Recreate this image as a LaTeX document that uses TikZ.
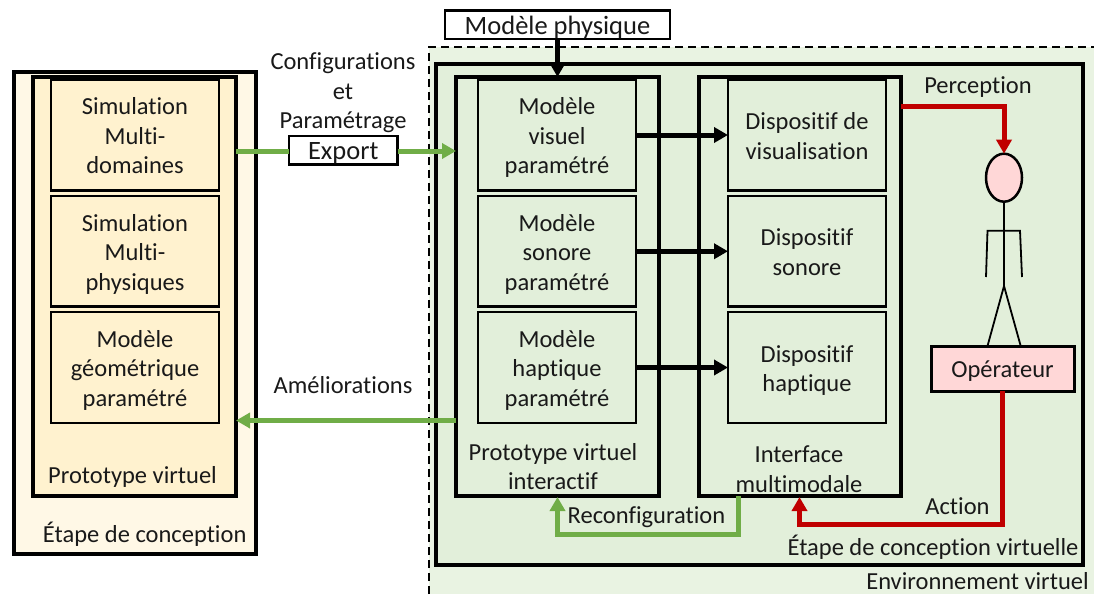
\documentclass[tikz,border=0pt]{standalone}
\usepackage{fontspec}
\setmainfont[Ligatures=NoCommon]{Carlito}
\usetikzlibrary{arrows.meta,shapes.geometric}
\definecolor{envfill}{HTML}{E9F3E2}
\definecolor{greenfill}{HTML}{E2EFDA}
\definecolor{outerfill}{HTML}{FFF8E6}
\definecolor{yellowfill}{HTML}{FFF2CF}
\definecolor{pinkfill}{HTML}{FFD7D7}
\definecolor{arrgreen}{HTML}{70AD47}
\definecolor{arrred}{HTML}{C00000}
\newcommand{\boxdrop}{9.8pt}
\tikzset{
  x=1pt,y=-1pt,
  txt/.style={font=\fontsize{24.5}{29.5}\selectfont,align=center,inner sep=0pt,outer sep=0pt,text=black!90},
  rbox/.style={draw=black,txt},
  heavy/.style={rbox,line width=4pt},
  light/.style={rbox,line width=2.5pt},
  tagbox/.style={rbox,line width=2.5pt,fill=white,font=\fontsize{26.5}{29.5}\selectfont,execute at begin node={\renewcommand{\boxdrop}{10pt}}},
  flowtip/.style={-{Triangle[width=15pt,length=14pt]}},
  flowgreen/.style={draw=arrgreen,line width=5pt},
  flowred/.style={draw=arrred,line width=5pt},
  flowblack/.style={draw=black,line width=5pt},
  stick/.style={draw=black,line width=1.8pt},
}
% \rectnode{style}{name}{x1}{y1}{x2}{y2}{text}
\newcommand{\rectnode}[7]{%
  \pgfmathsetmacro{\rcx}{(#3+#5)/2}\pgfmathsetmacro{\rcy}{(#4+#6)/2}%
  \pgfmathsetmacro{\rw}{#5-#3}\pgfmathsetmacro{\rh}{#6-#4}%
  \node[#1,minimum width=\rw pt,minimum height=\rh pt] (#2) at (\rcx,\rcy) {\raisebox{-\boxdrop}[0pt][0pt]{\begin{tabular}{@{}c@{}}#7\end{tabular}}};}
\begin{document}
\begin{tikzpicture}
\useasboundingbox (0,0) rectangle (1094,594);
% environment
\fill[envfill] (429,47) rectangle (1094,594);
\coordinate (envA) at (429,594);
\coordinate (envB) at (429,47);
\coordinate (envC) at (1094,47);
\draw[black,line width=2pt,dash pattern=on 8pt off 5pt] (envA) -- (envB) -- (envC);
% left side
\rectnode{heavy,fill=outerfill}{stepA}{14}{72}{256}{554}{}
\rectnode{heavy,fill=yellowfill}{protoA}{32.5}{77}{236}{496}{}
\rectnode{light,fill=yellowfill}{simA}{51}{79.5}{219}{190.5}{Simulation\\Multi-\\domaines}
\rectnode{light,fill=yellowfill}{simB}{51}{196}{219}{306.5}{Simulation\\Multi-\\physiques}
\rectnode{light,fill=yellowfill}{simC}{51}{312}{219}{423}{Modèle\\géométrique\\paramétré}
\node[txt] (lblProtoA) at (132.5,477) {Prototype virtuel};
\node[txt] (lblStepA) at (144.7,534) {Étape de conception};
% right side
\rectnode{heavy,fill=greenfill}{stepB}{435.5}{64}{1082.5}{565}{}
\rectnode{heavy,fill=greenfill}{protoB}{456}{77}{659}{496}{}
\rectnode{heavy,fill=greenfill}{iface}{699}{77}{901}{496}{}
\rectnode{light,fill=greenfill}{modA}{478}{79.5}{636}{190.5}{Modèle\\visuel\\paramétré}
\rectnode{light,fill=greenfill}{modB}{478}{196}{636}{306.5}{Modèle\\sonore\\paramétré}
\rectnode{light,fill=greenfill}{modC}{478}{312}{636}{423}{Modèle\\haptique\\paramétré}
\rectnode{light,fill=greenfill}{devA}{728}{79.5}{886}{190.5}{Dispositif de\\visualisation}
\rectnode{light,fill=greenfill}{devB}{728}{196}{886}{306.5}{Dispositif\\sonore}
\rectnode{light,fill=greenfill}{devC}{728}{312}{886}{423}{Dispositif\\haptique}
\node[txt] (lblProtoB) at (553,466.5) {Prototype virtuel\\interactif};
\node[txt] (lblIface) at (799,469) {Interface\\multimodale};
\node[txt] (lblStepB) at (933,547) {Étape de conception virtuelle};
\node[txt] (lblEnv) at (977.5,581.5) {Environnement virtuel};
% top tag
\rectnode{tagbox}{phys}{445}{10.5}{670}{39}{Modèle physique}
% operator
\node[draw=black,line width=2.5pt,fill=pinkfill,ellipse,minimum width=36pt,minimum height=48pt,inner sep=0pt,outer sep=0pt] (head) at (1004,177.7) {};
\coordinate (hip) at (1004,286);
\coordinate (shL) at (987.5,230.7);
\coordinate (shR) at (1020,230.7);
\coordinate (handL) at (986,277);
\coordinate (handR) at (1022,277);
\coordinate (footL) at (987.5,346);
\coordinate (footR) at (1020.7,346);
\draw[stick] (head.south) -- (hip);
\draw[stick] (handL) -- (shL) -- (shR) -- (handR);
\draw[stick] (footL) -- (hip) -- (footR);
\rectnode{heavy,line width=3pt,fill=pinkfill}{oper}{931}{346}{1074}{391}{Opérateur}
% export
\rectnode{tagbox}{export}{289}{136}{397.5}{164.5}{Export}
\node[txt] (lblConf) at (343,93) {Configurations\\et\\Paramétrage};
\node[txt] (lblAmel) at (343,385.5) {Améliorations};
\node[txt] (lblPerc) at (978,87.5) {Perception};
\node[txt] (lblAct) at (957.5,506.5) {Action};
\node[txt] (lblReconf) at (646.5,517.5) {Reconfiguration};
% connectors
\coordinate (expL) at (protoA.east |- 0,151);
\coordinate (expR) at (protoB.west |- 0,151);
\draw[flowgreen] (expL) -- (export.west |- expL);
\draw[flowgreen,flowtip] (export.east |- expR) -- (expR);
\coordinate (amR) at (protoB.west |- 0,420.5);
\coordinate (amL) at (protoA.east |- 0,420.5);
\draw[flowgreen,flowtip] (amR) -- (amL);
\coordinate (physOut) at (557.5,39);
\draw[flowblack,flowtip] (phys.south -| physOut) -- (physOut |- protoB.north);
\draw[flowblack,flowtip] (modA.east) -- (devA.west |- modA.east);
\draw[flowblack,flowtip] (modB.east) -- (devB.west |- modB.east);
\draw[flowblack,flowtip] (modC.east) -- (devC.west |- modC.east);
\coordinate (percStart) at (iface.east |- 0,106);
\draw[flowred,flowtip] (percStart) -| (head.north);
\coordinate (actCorner) at (oper.south |- 0,524);
\coordinate (actEnd) at (799.5,497);
\draw[flowred,flowtip] (oper.south) -- (actCorner) -| (actEnd);
\coordinate (recStart) at (738,496);
\coordinate (recCorner) at (738,534);
\coordinate (recEnd) at (557.5,497);
\draw[flowgreen,flowtip] (recStart) -- (recCorner) -| (recEnd);
\end{tikzpicture}
\end{document}
